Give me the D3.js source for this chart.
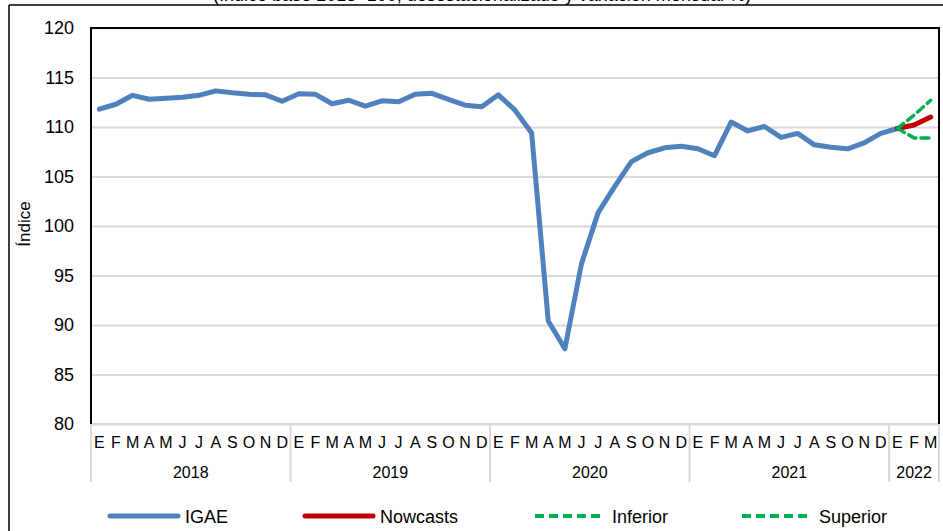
<!DOCTYPE html>
<html>
<head>
<meta charset="utf-8">
<script src="https://cdn.jsdelivr.net/npm/d3@7"></script>
<style>
  html, body { margin: 0; padding: 0; background: #fff; }
  svg { display: block; font-family: "Liberation Sans", Arial, sans-serif; }
</style>
</head>
<body>
<svg id="chart" width="943" height="531"></svg>
<script>
// ---- Data ----
const monthLabels = ["E","F","M","A","M","J","J","A","S","O","N","D"];
const years = [2018, 2019, 2020, 2021, 2022];
const monthsPerYear = [12, 12, 12, 12, 3];
const yTicks = [80, 85, 90, 95, 100, 105, 110, 115, 120];

const igae = [
  111.8, 112.3, 113.2, 112.8, 112.9, 113.0, 113.2, 113.65, 113.45, 113.3, 113.25, 112.6,
  113.35, 113.3, 112.35, 112.7, 112.1, 112.65, 112.55, 113.3, 113.4, 112.8, 112.2, 112.05,
  113.25, 111.7, 109.4, 90.4, 87.6, 96.2, 101.35, 104.0, 106.5, 107.4, 107.9, 108.05,
  107.8, 107.1, 110.5, 109.6, 110.05, 108.95, 109.35, 108.2, 107.95, 107.8, 108.4, 109.35,
  109.85
];
const nowcasts = [109.85, 110.2, 111.0];   // E, F, M 2022
const inferior = [109.85, 108.9, 108.9];
const superior = [109.85, 111.2, 112.7];
const forecastStart = 48;

const titleText = "(Índice base 2013=100, desestacionalizado y variación mensual %)";

// ---- Build categories ----
const cats = [];
years.forEach((yr, yi) => {
  for (let m = 0; m < monthsPerYear[yi]; m++) cats.push({ key: yr + "-" + m, year: yr, label: monthLabels[m] });
});

const svg = d3.select("#chart");
const L = 91, R = 939, T = 28, B = 424;

const x = d3.scaleBand().domain(cats.map(d => d.key)).range([L, R]).padding(0);
const y = d3.scaleLinear().domain([80, 120]).range([B, T]);
const cx = i => x(cats[i].key) + x.bandwidth() / 2;

// Title (cut off at the top, as in the reference)
svg.append("text").attr("x", 482).attr("y", 0.5).attr("text-anchor", "middle")
  .attr("font-size", 18).attr("fill", "#000").text(titleText);

// Outer chart border
svg.append("line").attr("x1", 9).attr("y1", 5).attr("x2", 943).attr("y2", 5).attr("stroke", "#000").attr("stroke-width", 1.5);
svg.append("line").attr("x1", 9).attr("y1", 5).attr("x2", 9).attr("y2", 531).attr("stroke", "#000").attr("stroke-width", 1.5);

// Gridlines
svg.append("g").attr("transform", `translate(${L},0)`)
  .call(d3.axisLeft(y).tickValues(yTicks).tickSize(-(R - L)).tickFormat(""))
  .call(g => g.select(".domain").remove())
  .call(g => g.selectAll("line").attr("stroke", "#d9d9d9").attr("stroke-width", 2));

// Y axis labels
svg.append("g").attr("transform", `translate(${L},0)`)
  .call(d3.axisLeft(y).tickValues(yTicks).tickSize(0).tickPadding(17))
  .call(g => g.select(".domain").remove())
  .call(g => g.selectAll("text").attr("font-size", 18).attr("fill", "#000").attr("font-family", "Liberation Sans, Arial, sans-serif"));

// X axis months
svg.append("g").attr("transform", `translate(0,${B})`)
  .call(d3.axisBottom(x).tickSize(0).tickPadding(12.5).tickFormat(k => cats.find(c => c.key === k).label))
  .call(g => g.select(".domain").remove())
  .call(g => g.selectAll("text").attr("font-size", 16).attr("fill", "#000").attr("font-family", "Liberation Sans, Arial, sans-serif"));

// Year groups and separators
let idx = 0;
const sepG = svg.append("g");
years.forEach((yr, yi) => {
  const first = idx, last = idx + monthsPerYear[yi] - 1;
  const x0 = x(cats[first].key), x1 = x(cats[last].key) + x.bandwidth();
  sepG.append("line").attr("x1", x0).attr("x2", x0).attr("y1", B).attr("y2", 482).attr("stroke", "#d9d9d9").attr("stroke-width", 2);
  if (yi === years.length - 1)
    sepG.append("line").attr("x1", x1).attr("x2", x1).attr("y1", B).attr("y2", 482).attr("stroke", "#d9d9d9").attr("stroke-width", 2);
  sepG.append("text").attr("x", (x0 + x1) / 2).attr("y", 478).attr("text-anchor", "middle")
    .attr("font-size", 16).attr("fill", "#000").text(yr);
  idx = last + 1;
});

// Bottom axis line (gray)
svg.append("line").attr("x1", L).attr("x2", R).attr("y1", B).attr("y2", B).attr("stroke", "#d9d9d9").attr("stroke-width", 2);

// Plot border (left, top, right)
svg.append("path").attr("d", `M${L},${B}V${T}H${R}V${B}`).attr("fill", "none").attr("stroke", "#000").attr("stroke-width", 2);

// Lines
const line = d3.line().x(d => cx(d.i)).y(d => y(d.v));
svg.append("path").datum(igae.map((v, i) => ({ i, v })))
  .attr("d", line).attr("fill", "none").attr("stroke", "#4f81bd").attr("stroke-width", 5)
  .attr("stroke-linejoin", "round").attr("stroke-linecap", "round");
svg.append("path").datum(nowcasts.map((v, k) => ({ i: forecastStart + k, v })))
  .attr("d", line).attr("fill", "none").attr("stroke", "#c00000").attr("stroke-width", 5)
  .attr("stroke-linejoin", "round").attr("stroke-linecap", "round");
[inferior, superior].forEach(s => {
  svg.append("path").datum(s.map((v, k) => ({ i: forecastStart + k, v })))
    .attr("d", line).attr("fill", "none").attr("stroke", "#00b050").attr("stroke-width", 3.5)
    .attr("stroke-dasharray", "8,5").attr("stroke-linecap", "round");
});

// Legend
const legend = [
  { name: "IGAE", color: "#4f81bd", x: 108, dash: null, w: 5 },
  { name: "Nowcasts", color: "#c00000", x: 303, dash: null, w: 5 },
  { name: "Inferior", color: "#00b050", x: 535, dash: "9,5", w: 4 },
  { name: "Superior", color: "#00b050", x: 742, dash: "9,5", w: 4 }
];
legend.forEach(d => {
  const ln = svg.append("line").attr("x1", d.x + (d.dash ? 0 : 2)).attr("x2", d.x + 70).attr("y1", 516).attr("y2", 516)
    .attr("stroke", d.color).attr("stroke-width", d.w).attr("stroke-linecap", d.dash ? "butt" : "round");
  if (d.dash) ln.attr("stroke-dasharray", d.dash);
  svg.append("text").attr("x", d.x + 77).attr("y", 522.5).attr("font-size", 18).attr("fill", "#000").text(d.name);
});

// Y axis title
svg.append("text").attr("transform", "translate(30,224) rotate(-90)").attr("text-anchor", "middle")
  .attr("font-size", 17).attr("fill", "#000").text("Índice");
</script>
</body>
</html>
